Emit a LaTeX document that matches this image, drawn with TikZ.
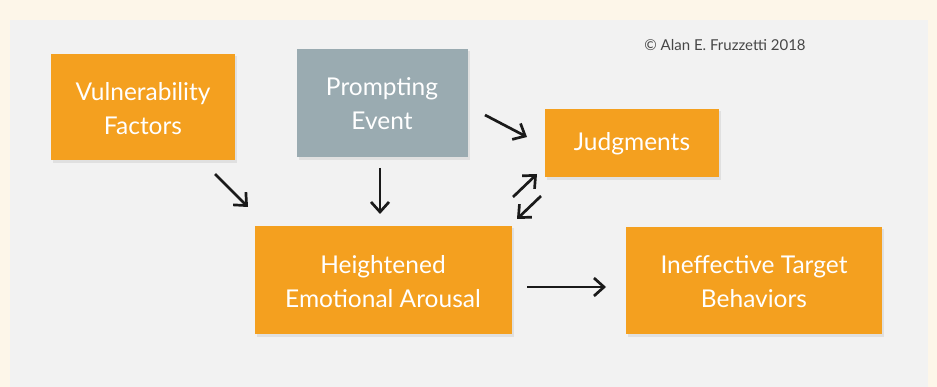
\documentclass[tikz,border=0pt]{standalone}
\usepackage{fontspec}
\setmainfont{Lato}
\usetikzlibrary{arrows.meta}
\definecolor{cream}{HTML}{FDF6E9}
\definecolor{panel}{HTML}{F2F2F2}
\definecolor{boxorange}{HTML}{F4A01F}
\definecolor{boxgray}{HTML}{9AABB1}
\definecolor{ink}{HTML}{1A1A1A}
\begin{document}
\begin{tikzpicture}[x=1pt,y=-1pt,
  card/.style={draw=none, text=white, align=center, inner sep=0pt,
    font=\fontsize{24.5}{34}\selectfont},
  shade/.style={fill=black!12},
  flow/.style={draw=ink, line width=2.7pt, -{Straight Barb[length=10pt,width=18pt]}}]
  % background and panel
  \fill[cream] (0,0) rectangle (937,387);
  \useasboundingbox (0,0) rectangle (937,387);
  \fill[panel] (10,20) rectangle (928,387);
  % soft shadows behind the cards
  \fill[shade] (53,56) rectangle (237,163);
  \fill[shade] (299,51) rectangle (470,160);
  \fill[shade] (547,111) rectangle (721,180);
  \fill[shade] (257,228) rectangle (514,337);
  \fill[shade] (628,229) rectangle (884,337);
  % cards
  \fill[boxorange] (51,54) rectangle (235,160);
  \node[card] (vuln) at (143,109) {Vulnerability\\Factors};
  \fill[boxgray] (297,49) rectangle (468,157);
  \node[card] (prompt) at (382,104) {Prompting\\Event};
  \fill[boxorange] (545,109) rectangle (719,177);
  \node[card] (judg) at (632,144) {Judgments};
  \fill[boxorange] (255,226) rectangle (512,334);
  \node[card] (arousal) at (383,282) {Heightened\\Emotional Arousal};
  \fill[boxorange] (626,227) rectangle (882,334);
  \node[card] (behav) at (754,282) {Ineffective Target\\Behaviors};
  % copyright line
  \node[text=black!72, font=\fontsize{15}{17}\selectfont] (copy) at (725,45) {© Alan E. Fruzzetti 2018};
  % arrow end points
  \coordinate (a1s) at (215,174); \coordinate (a1e) at (248,207);
  \coordinate (a2s) at (380,168); \coordinate (a2e) at (380,214);
  \coordinate (a3s) at (485,115); \coordinate (a3e) at (527,137);
  \coordinate (a4s) at (513,197); \coordinate (a4e) at (537,174);
  \coordinate (a5s) at (541,196); \coordinate (a5e) at (517,219);
  \coordinate (a6s) at (527,287); \coordinate (a6e) at (606,287);
  \draw[flow] (a1s) -- (a1e);
  \draw[flow] (a2s) -- (a2e);
  \draw[flow] (a3s) -- (a3e);
  \draw[flow] (a4s) -- (a4e);
  \draw[flow] (a5s) -- (a5e);
  \draw[flow] (a6s) -- (a6e);
\end{tikzpicture}
\end{document}
